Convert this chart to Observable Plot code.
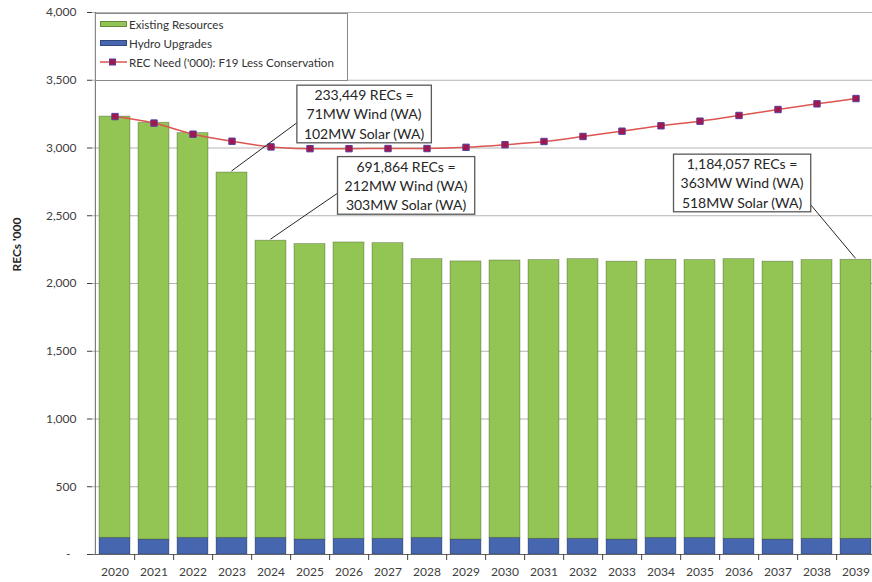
<!DOCTYPE html>
<html><head><meta charset="utf-8">
<script src="https://cdn.jsdelivr.net/npm/d3@7"></script>
<script src="https://cdn.jsdelivr.net/npm/@observablehq/plot@0.6"></script>
<style>
html,body{margin:0;padding:0;background:#fff;overflow:hidden;}
#wrap{position:relative;width:872px;height:582px;overflow:hidden;font-family:Lato,"Open Sans",sans-serif;}
#legend{position:absolute;left:95px;top:13px;width:253px;height:68px;border:1px solid #8a8a8a;background:#fff;box-sizing:border-box;font-size:11.6px;color:#333;}
.row{position:absolute;left:4px;height:14px;display:flex;align-items:center;white-space:nowrap;}
.sw{width:27px;height:6px;margin-right:2px;box-sizing:border-box;border:1px solid rgba(0,0,0,0.3);}
</style></head>
<body><div id="wrap"><div id="chart"></div><div id="legend"></div></div>
<script>
const years = ["2020","2021","2022","2023","2024","2025","2026","2027","2028","2029","2030","2031","2032","2033","2034","2035","2036","2037","2038","2039"];
const hydroUpgrades = [123,110,123,123,123,110,116,116,123,110,123,116,116,110,123,123,116,110,116,116];
const existingResources = [3109,3076,2987,2696,2193,2181,2187,2182,2057,2053,2047,2057,2064,2051,2052,2050,2064,2051,2057,2059];
const recNeed = [3232,3184,3102,3050,3008,2995,2995,2996,2996,3005,3024,3048,3085,3124,3164,3198,3240,3284,3326,3365];
const yTicks = [0,500,1000,1500,2000,2500,3000,3500,4000];
const seriesNames = ["Existing Resources","Hydro Upgrades","REC Need ('000): F19 Less Conservation"];
const yLabel = "RECs '000";
const annotations = [
  {year:"2026", value:3256, target:"2023", text:"233,449 RECs =\n71MW Wind (WA)\n102MW Solar (WA)"},
  {year:"2027", value:2729, target:"2024", text:"691,864 RECs =\n212MW Wind (WA)\n303MW Solar (WA)"},
  {year:"2036", value:2747, target:"2039", text:"1,184,057 RECs =\n363MW Wind (WA)\n518MW Solar (WA)"}
];

const barColors = ["#92c553","#4667b0"];
const lineColor = "#dc5550";
const markerFill = "#a3174f", markerStroke = "#5a3f98";

const stackRows = years.flatMap((y,i)=>[
  {year:y, series:seriesNames[1], value:hydroUpgrades[i]},
  {year:y, series:seriesNames[0], value:existingResources[i]}
]);
const lineRows = years.map((y,i)=>({year:y, value:recNeed[i]}));
const totals = years.map((y,i)=>hydroUpgrades[i]+existingResources[i]);

const xRange = [92, 878];
const step = (xRange[1]-xRange[0])/years.length;
const annOffsets = [15, 18, 3];

const chart = Plot.plot({
  width: 872, height: 582,
  marginTop: 12, marginBottom: 28, marginLeft: 92, marginRight: 0,
  style: {fontFamily: "Lato, 'Open Sans', sans-serif", fontSize: "12px", color: "#404040", background: "white", overflow: "visible"},
  x: {domain: years, range: xRange, paddingInner: 0.21, paddingOuter: 0.105, label: null},
  y: {domain: [0, 4000], label: null},
  color: {domain: seriesNames.slice(0,2), range: barColors},
  marks: [
    Plot.gridY(yTicks, {stroke: "#b3b3b3", strokeOpacity: 1, strokeWidth: 1.2}),
    Plot.barY(stackRows, {x: "year", y: "value", fill: "series", stroke: "#000", strokeOpacity: 0.3, strokeWidth: 0.8}),
    Plot.ruleY([0], {stroke: "#666"}),
    Plot.ruleX([years[0]], {dx: -step/2, stroke: "#666"}),
    Plot.axisY({ticks: yTicks, tickSize: 5, tickPadding: 11, fontSize: 12, label: null,
      tickFormat: d => d === 0 ? "-\u00a0\u00a0" : d3.format(",")(d)}),
    Plot.axisX({tickSize: 0, tickPadding: 13, fontSize: 12, label: null}),
    Plot.axisX({tickSize: 6, dx: step/2, tickFormat: () => "", label: null}),
    Plot.text([yLabel], {text: d => d, frameAnchor: "left", rotate: -90, dx: -75, dy: -12, fontWeight: "bold", fontSize: 12, fill: "#262626"}),
    Plot.line(lineRows, {x: "year", y: "value", curve: "catmull-rom", stroke: lineColor, strokeWidth: 1.5}),
    Plot.dot(lineRows, {x: "year", y: "value", symbol: "square", r: 3.6, fill: markerFill, stroke: markerStroke, strokeWidth: 1}),
    ...annotations.map((a,i)=>Plot.text([a], {x: "year", y: "value", text: "text", dx: annOffsets[i], lineHeight: 1.38, fontSize: 14, fill: "#262626"}))
  ]
});
document.getElementById("chart").appendChild(chart);

// boxes and leader lines, positioned through Plot's scales
const sx = chart.scale("x"), sy = chart.scale("y");
const cx = v => sx.apply(v) + (sx.bandwidth || 0)/2;
const leaderSpec = [{side:"left", up:20}, {side:"left", up:21}, {side:"right", up:7}];
const svg = d3.select(chart);
const allTexts = Array.from(chart.querySelectorAll("text"));
annotations.forEach((a,i)=>{
  const first = a.text.split("\n")[0];
  const t = allTexts.find(el => el.textContent.startsWith(first));
  if (!t) return;
  const holder = t.parentNode;
  const bb = t.getBBox();
  const px = 7, py = 1;
  const x0 = bb.x - px, y0 = bb.y - py, w = bb.width + 2*px, h = bb.height + 2*py;
  const s = leaderSpec[i];
  const lx = s.side === "left" ? x0 : x0 + w, ly = y0 + h - s.up;
  const tx = cx(a.target), ty = sy.apply(totals[years.indexOf(a.target)]) - 1;
  const tr = t.getAttribute("transform");
  d3.select(holder).insert("line", () => t).attr("x1", lx).attr("y1", ly).attr("x2", tx).attr("y2", ty)
     .attr("stroke", "#262626").attr("stroke-width", 1)
     .attr("transform", null);
  d3.select(holder).insert("rect", () => t).attr("x", x0).attr("y", y0).attr("width", w).attr("height", h)
     .attr("fill", "#fff").attr("stroke", "#595959").attr("stroke-width", 1.3)
     .attr("transform", tr);
  // bbox is in the text's local coords; map line start through the same transform
  if (tr) {
    const m = t.getCTM(), root = chart.getCTM ? chart.getScreenCTM() : null;
    const pm = holder.getScreenCTM().inverse().multiply(t.getScreenCTM());
    const p = chart.createSVGPoint(); p.x = lx; p.y = ly;
    const q = p.matrixTransform(pm);
    const hm = holder.getScreenCTM().inverse().multiply(chart.getScreenCTM());
    const pt = chart.createSVGPoint(); pt.x = tx; pt.y = ty;
    const qt = pt.matrixTransform(hm);
    d3.select(holder).select("line").attr("x1", q.x).attr("y1", q.y).attr("x2", qt.x).attr("y2", qt.y);
  }
});

// legend
const legend = document.getElementById("legend");
const tops = [3, 22, 41];
seriesNames.forEach((name,i)=>{
  const row = document.createElement("div");
  row.className = "row"; row.style.top = tops[i] + "px";
  if (i < 2) {
    row.innerHTML = `<div class="sw" style="background:${barColors[i]}"></div><span>${name}</span>`;
  } else {
    row.innerHTML = `<svg width="27" height="10" style="margin-right:2px"><line x1="0" y1="5" x2="27" y2="5" stroke="${lineColor}" stroke-width="1.5"/><rect x="9.5" y="2" width="6" height="6" fill="${markerFill}" stroke="${markerStroke}" stroke-width="1"/></svg><span>${name}</span>`;
  }
  legend.appendChild(row);
});
</script>
</body></html>
